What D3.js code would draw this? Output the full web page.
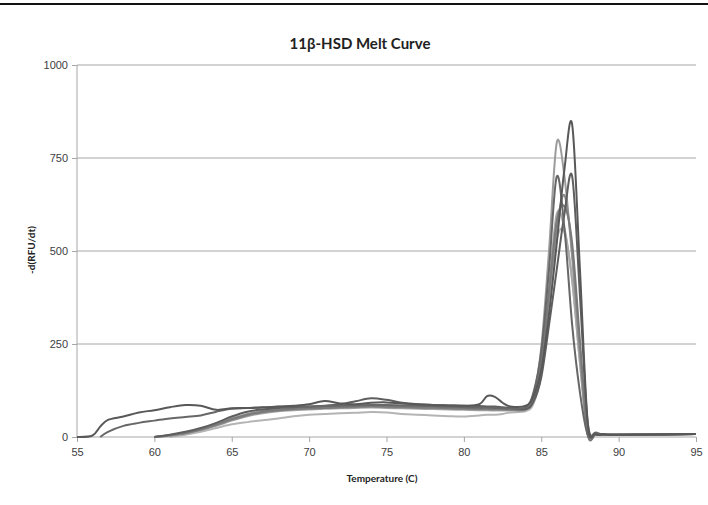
<!DOCTYPE html>
<html>
<head>
<meta charset="utf-8">
<script src="https://cdn.jsdelivr.net/npm/d3@7"></script>
<style>
  body { margin: 0; background: #fff; }
  svg { font-family: Lato, "Open Sans", sans-serif; }
  .axis text { fill: #404040; font-size: 11px; }
  .axis path, .axis line { stroke: #a6a6a6; }
</style>
</head>
<body>
<div id="chart"></div>
<script>

// shared temperature grid (C)
var temps = [55, 56, 56.5, 57, 58, 59, 60, 61, 62, 63, 64, 65, 66, 67, 68, 69, 70, 71, 72, 73, 74, 75,
             76, 77, 78, 79, 80, 81, 81.5, 82, 82.5, 83, 84, 84.5, 85, 85.5, 86, 86.5, 87, 87.5,
             88, 88.5, 89, 90, 95];

// -d(RFU/dt) per well, null = no reading
var well1 = [0, 4, 28, 46, 55, 66, 72, 80, 86, 84, 73, 77, 78, 79, 82, 84, 88, 97, 90, 88, 92, 93,
             90, 88, 86, 85, 84, 88, 110, 108, 92, 82, 84, 110, 180, 330, 520, 720, 839, 450,
             40, 8, 8, 6, 8];
var well2 = [null, null, 0, 14, 30, 38, 44, 50, 54, 58, 68, 76, 78, 80, 81, 82, 82, 83, 84, 85, 86, 86,
             85, 84, 83, 82, 80, 79, 79, 78, 77, 77, 80, 120, 230, 450, 700, 560, 300, 120,
             6, 12, 6, 6, 8];
var well3 = [null, null, null, null, null, null, 0, 6, 14, 24, 38, 55, 68, 74, 78, 80, 82, 84, 88, 96, 104, 100,
             92, 88, 86, 85, 84, 83, 82, 82, 80, 78, 75, 95, 160, 300, 450, 600, 700, 380,
             40, 8, 6, 6, 8];
var well4 = [null, null, null, null, null, null, 0, 5, 12, 22, 35, 50, 62, 70, 74, 76, 78, 80, 82, 84, 85, 84,
             83, 82, 80, 79, 78, 77, 77, 76, 76, 75, 78, 110, 240, 500, 791, 700, 480, 220,
             8, 6, 6, 6, 8];
var well5 = [null, null, null, null, null, null, 0, 4, 10, 20, 32, 46, 58, 66, 71, 74, 76, 78, 79, 80, 81, 80,
             79, 78, 77, 76, 75, 74, 74, 73, 73, 73, 74, 100, 190, 380, 560, 650, 500, 230,
             8, 6, 6, 6, 8];
var well6 = [null, null, null, null, null, null, 0, 3, 9, 18, 30, 44, 56, 64, 69, 72, 74, 76, 77, 78, 79, 78,
             77, 76, 75, 74, 73, 72, 72, 71, 71, 71, 72, 100, 200, 400, 600, 560, 420, 200,
             8, 6, 6, 6, 8];
var well7 = [null, null, null, null, null, null, 0, 5, 11, 20, 33, 48, 60, 68, 72, 75, 77, 78, 80, 82, 83, 82,
             81, 80, 79, 78, 77, 76, 76, 75, 75, 74, 76, 105, 200, 390, 580, 620, 520, 260,
             10, 6, 6, 6, 8];
var well8 = [null, null, null, null, null, null, null, 0, 6, 14, 24, 34, 40, 45, 50, 56, 60, 62, 64, 65, 67, 66,
             62, 60, 58, 56, 55, 58, 60, 60, 62, 66, 70, 90, 170, 350, 530, 550, 420, 200,
             8, 6, 6, 6, 8];

var wells = [well8, well6, well4, well5, well7, well3, well2, well1];
var wellColors = ["#b4b4b4", "#a9a9a9", "#9c9c9c", "#8a8a8a", "#7a7a7a", "#5e5e5e", "#676767", "#585858"];

var xTicks = [55, 60, 65, 70, 75, 80, 85, 90, 95];
var yTicks = [0, 250, 500, 750, 1000];

var W = 708, H = 505;
var margin = {top: 65, right: 12, bottom: 68, left: 77},
    width = 696 - margin.left,
    height = 437 - margin.top;

var svg = d3.select("#chart").append("svg")
    .attr("width", W)
    .attr("height", H);

// rule across the top of the page
svg.append("rect")
    .attr("x", 0).attr("y", 3)
    .attr("width", W).attr("height", 2)
    .attr("fill", "#111");

var g = svg.append("g")
    .attr("transform", "translate(" + margin.left + "," + margin.top + ")");

var x = d3.scaleLinear().domain([55, 95]).range([0, width]);
var y = d3.scaleLinear().domain([0, 1000]).range([height, 0]);

// gridlines
g.append("g")
    .selectAll("line")
    .data(yTicks.filter(function(d) { return d > 0; }))
    .enter().append("line")
    .attr("x1", 0).attr("x2", width)
    .attr("y1", function(d) { return y(d); })
    .attr("y2", function(d) { return y(d); })
    .attr("stroke", "#a6a6a6")
    .attr("stroke-width", 1);

// axes
g.append("g")
    .attr("class", "axis")
    .call(d3.axisLeft(y).tickValues(yTicks).tickFormat(d3.format("d")).tickSize(5).tickPadding(4))
    .call(function(s) { s.select(".domain").attr("d", "M0,0V" + height); });

g.append("g")
    .attr("class", "axis")
    .attr("transform", "translate(0," + height + ")")
    .call(d3.axisBottom(x).tickValues(xTicks).tickSize(5).tickPadding(6))
    .call(function(s) { s.select(".domain").attr("d", "M0,0H" + width); });

// melt curves
var line = d3.line()
    .defined(function(d) { return d[1] != null; })
    .x(function(d) { return x(d[0]); })
    .y(function(d) { return y(d[1]); })
    .curve(d3.curveCatmullRom.alpha(0));

wells.forEach(function(vals, i) {
  var pts = temps.map(function(t, j) { return [t, vals[j]]; });
  g.append("path")
      .datum(pts)
      .attr("fill", "none")
      .attr("stroke", wellColors[i])
      .attr("stroke-width", 2)
      .attr("d", line);
});

// titles
svg.append("text")
    .attr("x", 360).attr("y", 49)
    .attr("text-anchor", "middle")
    .style("font-size", "15px")
    .style("font-weight", "bold")
    .attr("fill", "#222")
    .text("11β-HSD Melt Curve");

svg.append("text")
    .attr("x", 382).attr("y", 482)
    .attr("text-anchor", "middle")
    .style("font-size", "10px")
    .style("font-weight", "bold")
    .attr("fill", "#222")
    .text("Temperature (C)");

svg.append("text")
    .attr("transform", "translate(35,250) rotate(-90)")
    .attr("text-anchor", "middle")
    .style("font-size", "10px")
    .style("font-weight", "bold")
    .attr("fill", "#222")
    .text("-d(RFU/dt)");

</script>
</body>
</html>
